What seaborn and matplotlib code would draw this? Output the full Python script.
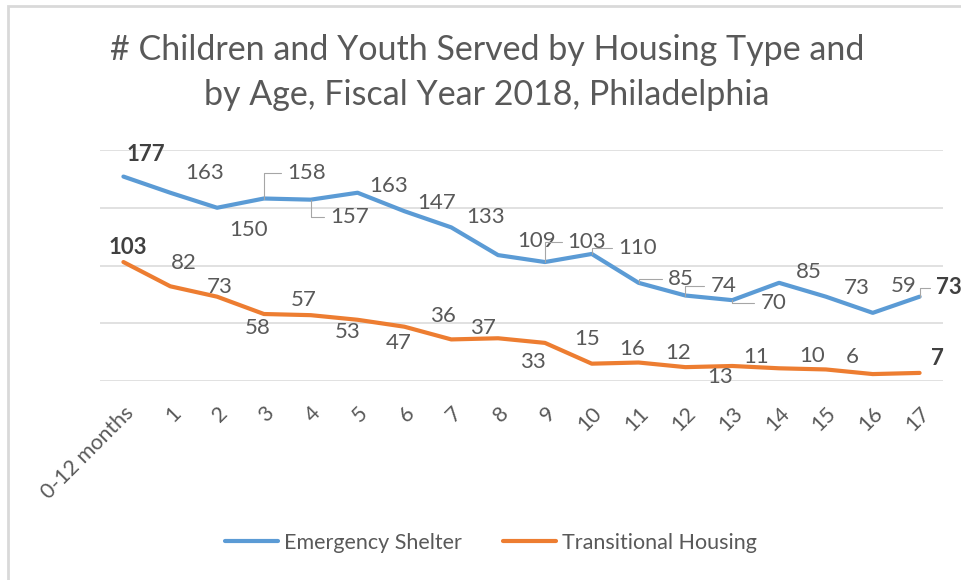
import matplotlib
matplotlib.use("Agg")
import matplotlib.pyplot as plt
import matplotlib.patches as mpatches
import seaborn as sns
import pandas as pd

ages = ["0-12 months", "1", "2", "3", "4", "5", "6", "7", "8", "9",
        "10", "11", "12", "13", "14", "15", "16", "17"]
emergency = [177, 163, 150, 158, 157, 163, 147, 133, 109, 103,
             110, 85, 74, 70, 85, 73, 59, 73]
transitional = [103, 82, 73, 58, 57, 53, 47, 36, 37, 33,
                15, 16, 12, 13, 11, 10, 6, 7]
series_names = ["Emergency Shelter", "Transitional Housing"]

# label offsets in pixels (dx right, dy down) – styling only
em_off_px = [(22, -22), (34, -20), (31, 22), (43, -26), (39, 17), (31, -7), (32, -8),
             (34, -10), (38, -14), (42, -20), (46, -6), (42, -4), (38, -10), (41, 3),
             (30, -11), (31, -9), (31, -27), (29, -9)]
tr_off_px = [(4, -15), (14, -23), (3, -10), (-6, 14), (-7, -15), (-10, 12), (-6, 16),
             (-8, -23), (-15, -10), (-12, 19), (-5, -25), (-6, -14), (-7, -14), (-12, 11),
             (-23, -11), (-14, -13), (-20, -17), (18, -14)]
em_leaders = {3, 4, 9, 10, 11, 12, 13, 17}

sns.set_theme(style="white")
plt.rcParams["font.family"] = ["Lato", "DejaVu Sans"]

df = pd.DataFrame({
    "idx": list(range(len(ages))) * 2,
    "value": emergency + transitional,
    "series": [series_names[0]] * len(ages) + [series_names[1]] * len(ages),
})

fig = plt.figure(figsize=(9.62, 5.8), dpi=100)
ax = fig.add_axes([100 / 962, 1 - 381 / 580, 843 / 962, 231 / 580])

palette = {series_names[0]: "#5B9BD5", series_names[1]: "#ED7D31"}
sns.lineplot(data=df, x="idx", y="value", hue="series", palette=palette,
             linewidth=3.0, ax=ax, sort=False, legend=True)
for ln in ax.get_lines():
    ln.set_solid_capstyle("round")
    ln.set_solid_joinstyle("round")

ax.set_xlim(-0.5, len(ages) - 0.5)
ax.set_ylim(0, 200)
ax.set_yticks([0, 50, 100, 150, 200])
ax.set_yticklabels([])
ax.tick_params(axis="y", length=0)
ax.grid(axis="y", color="#d9d9d9", linewidth=1.1)
ax.grid(axis="x", visible=False)
ax.set_axisbelow(True)
for s in ax.spines.values():
    s.set_visible(False)
ax.set_xlabel("")
ax.set_ylabel("")
ax.set_xticks(range(len(ages)))
ax.set_xticklabels(ages, rotation=45, ha="right", rotation_mode="anchor",
                   fontsize=15.5, color="#595959")
ax.tick_params(axis="x", length=0, pad=16)

last = len(ages) - 1


def add_labels(vals, offs, leaders):
    for i, v in enumerate(vals):
        bold = i == 0 or i == last
        dx, dy = offs[i]
        kw = dict(textcoords="offset pixels", xytext=(dx, -dy),
                  ha="center", va="center", fontsize=16,
                  color="#404040" if bold else "#595959",
                  fontweight="bold" if bold else "normal")
        if i in leaders:
            kw["arrowprops"] = dict(arrowstyle="-", color="#a6a6a6", lw=0.8,
                                    connectionstyle="angle,angleA=0,angleB=90,rad=0",
                                    relpos=(0, 0.5), shrinkA=2, shrinkB=0)
        ax.annotate(str(v), xy=(i, v), **kw)


add_labels(emergency, em_off_px, em_leaders)
add_labels(transitional, tr_off_px, set())

handles, labels = ax.get_legend_handles_labels()
ax.legend(handles, labels, loc="center", bbox_to_anchor=(0.51, 37 / 580),
          bbox_transform=fig.transFigure, ncol=2, frameon=False, fontsize=15.5,
          handlelength=2.5, handletextpad=0.25, columnspacing=1.9,
          labelcolor="#595959")
for lh in ax.get_legend().get_lines():
    lh.set_linewidth(3.0)

fig.suptitle("# Children and Youth Served by Housing Type and\nby Age, Fiscal Year 2018, Philadelphia",
             x=0.506, y=1 - 34 / 580, va="top", fontsize=24.5, color="#595959",
             linespacing=1.5)

border = mpatches.Rectangle((8 / 962, -0.1), 1.5, 1.1 - 6 / 580,
                            transform=fig.transFigure, fill=False,
                            edgecolor="#d9d9d9", linewidth=2.0, clip_on=False)
fig.patches.append(border)

fig.savefig("out.png", dpi=100)
